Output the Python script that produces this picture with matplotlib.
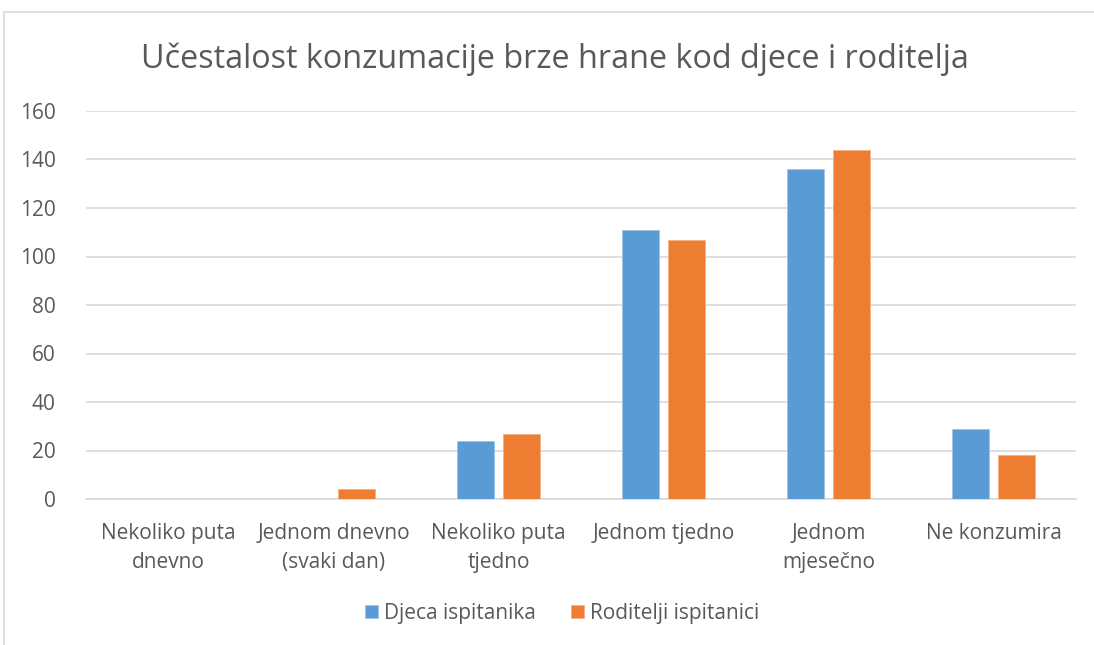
import numpy as np
import matplotlib.pyplot as plt
from matplotlib.patches import Rectangle

plt.rcParams['font.family'] = ['Open Sans', 'DejaVu Sans']

categories = ['Nekoliko puta\ndnevno', 'Jednom dnevno\n(svaki dan)', 'Nekoliko puta\ntjedno',
              'Jednom tjedno', 'Jednom\nmjesečno', 'Ne konzumira']
djeca = [0, 0, 24, 111, 136, 29]
roditelji = [0, 4, 27, 107, 144, 18]
series_names = ['Djeca ispitanika', 'Roditelji ispitanici']

blue = '#5B9BD5'
orange = '#ED7D31'
grey = '#595959'

fig = plt.figure(figsize=(10.94, 6.45), dpi=100)
# light chart border, cut off at right/bottom like the screenshot
fig.patches.append(Rectangle((4 / 1094, -0.1), 1.2, 1 - 12 / 645 + 0.1, transform=fig.transFigure,
                             fill=False, edgecolor='#D9D9D9', linewidth=1.2))

ax = fig.add_axes([86 / 1094, 1 - 499 / 645, 990 / 1094, 388 / 645])
ind = np.arange(len(categories))
width = 0.225
gap = 0.028
ax.bar(ind - width / 2 - gap, djeca, width, color=blue, edgecolor='#9DC3E6', linewidth=0.6,
       label=series_names[0], zorder=3)
ax.bar(ind + width / 2 + gap, roditelji, width, color=orange, edgecolor='#F4B183', linewidth=0.6,
       label=series_names[1], zorder=3)

ax.set_xlim(-0.5, len(categories) - 0.5)
ax.set_ylim(0, 160)
ax.set_yticks(range(0, 161, 20))
ax.set_xticks(ind)
ax.set_xticklabels(categories)
ax.grid(axis='y', color='#D9D9D9', linewidth=1.2, zorder=0)
for s in ['top', 'right', 'left']:
    ax.spines[s].set_visible(False)
ax.spines['bottom'].set_color('#D9D9D9')
ax.spines['bottom'].set_linewidth(1.2)
ax.tick_params(length=0, labelsize=15, labelcolor=grey)
ax.tick_params(axis='x', pad=17)
ax.tick_params(axis='y', pad=22)
for lbl in ax.get_xticklabels():
    lbl.set_linespacing(1.5)

fig.text(555 / 1094, 1 - 59 / 645, 'Učestalost konzumacije brze hrane kod djece i roditelja',
         ha='center', va='center', fontsize=23.3, color=grey)

leg = fig.legend(loc='center', bbox_to_anchor=(0.514, 1 - 613 / 645), ncol=2, frameon=False,
                 fontsize=15, handlelength=0.6, handleheight=0.6, handletextpad=0.3,
                 columnspacing=1.7)
for t in leg.get_texts():
    t.set_color(grey)

fig.savefig('out.png', dpi=100)
